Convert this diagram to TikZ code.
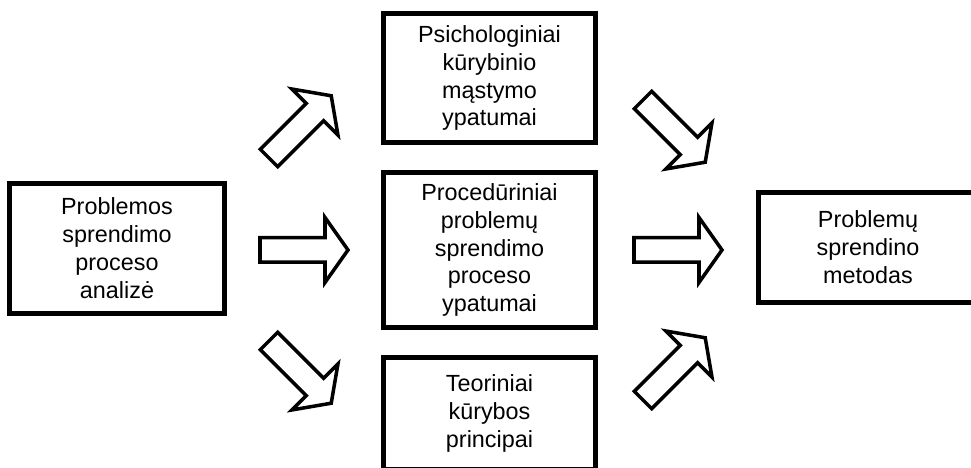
\documentclass[tikz,border=0pt]{standalone}
\usepackage{fontspec}
\setmainfont{Liberation Sans}
\begin{document}
\begin{tikzpicture}[inner sep=0pt,outer sep=0pt,line width=2.85pt,
block/.style={draw,rectangle,align=center,font=\fontsize{13.3}{15.9}\selectfont},
fatarrow/.pic={\draw[line width=2pt,fill=white,line join=miter]
  (0,-.245) -- (1.3,-.245) -- (1.3,-.65) -- (1.76,0) -- (1.3,.65) -- (1.3,.245) -- (0,.245) -- cycle;}]
\useasboundingbox (0,0) rectangle (19.42,9.36);
\begin{scope}
\clip (0,0) rectangle (19.42,9.36);
\draw (2.34,4.39) node[block,minimum width=4.3cm,minimum height=2.6cm] (analize) {Problemos\\sprendimo\\proceso\\analizė};
\draw (9.79,7.8) node[block,minimum width=4.24cm,minimum height=2.58cm] (psich) {Psichologiniai\\kūrybinio\\mąstymo\\ypatumai};
\draw (9.79,4.36) node[block,minimum width=4.24cm,minimum height=3.1cm] (proced) {Procedūriniai\\problemų\\sprendimo\\proceso\\ypatumai};
\draw (9.79,1.09) node[block,minimum width=4.24cm,minimum height=2.24cm] (teor) {Teoriniai\\kūrybos\\principai};
\draw (17.36,4.41) node[block,minimum width=4.38cm,minimum height=2.2cm] (metod) {Problemų\\sprendino\\metodas};
\end{scope}

% block arrows
\pic at (5.2,4.36) {fatarrow};
\pic[rotate=45] at (5.38,6.2) {fatarrow};
\pic[rotate=-45] at (5.38,2.54) {fatarrow};
\pic at (12.68,4.36) {fatarrow};
\pic[rotate=-45] at (12.86,7.36) {fatarrow};
\pic[rotate=45] at (12.86,1.36) {fatarrow};
\end{tikzpicture}
\end{document}
